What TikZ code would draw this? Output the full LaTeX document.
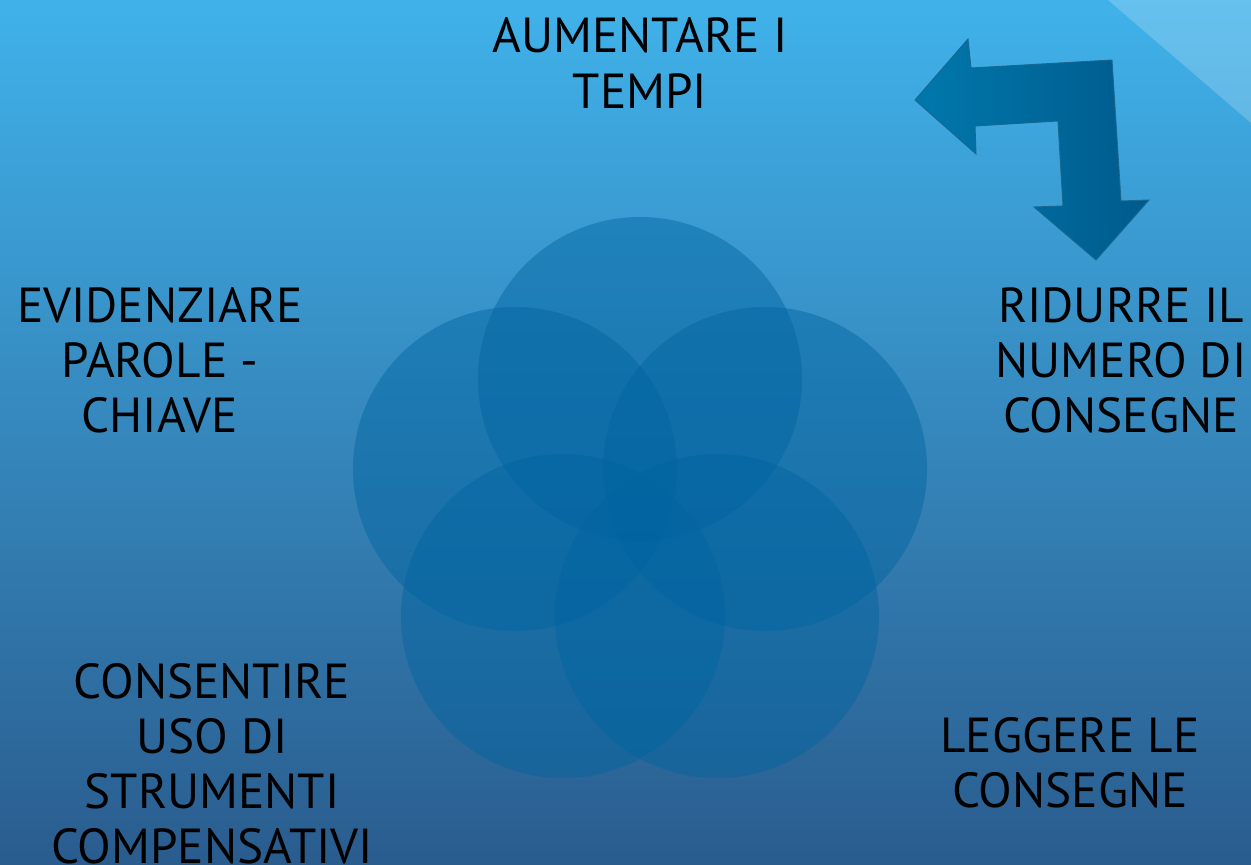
\documentclass[tikz,border=0pt]{standalone}
\usepackage{fontspec}
\setmainfont{PT Sans}
\usetikzlibrary{calc}

\definecolor{bgtop}{RGB}{64,178,234}
\definecolor{bgbot}{RGB}{42,92,142}
\definecolor{petal}{RGB}{0,100,160}
\definecolor{arrowlight}{RGB}{0,120,172}
\definecolor{arrowdark}{RGB}{0,90,140}
\definecolor{arrowline}{RGB}{24,104,146}

\tikzset{
  bubble/.style={circle, fill=petal, fill opacity=0.45, inner sep=0pt, minimum size=9.72cm},
  voce/.style={font=\fontsize{42}{47}\selectfont, align=center, text=black, inner sep=0pt}
}

\begin{document}
\begin{tikzpicture}[x=0.03cm, y=-0.03cm]
\clip (0, 0) rectangle (1251, 865);
\shade[top color=bgtop, bottom color=bgbot] (0, 0) rectangle (1251, 865);
\fill[white, opacity=0.2] (1108, 0) -- (1251, 0) -- (1251, 123) -- cycle;

\node[bubble] (top) at (640, 379) {};
\node[bubble] (left) at (515, 469) {};
\node[bubble] (right) at (765, 469) {};
\node[bubble] (lowleft) at (563, 616) {};
\node[bubble] (lowright) at (717, 616) {};

\shade[left color=arrowlight, right color=arrowdark, draw=arrowline, thick]
  (915, 100) -- (968, 39) -- (971, 68) -- (1112, 60) -- (1121, 201) -- (1149, 200)
  -- (1096, 260) -- (1034, 207) -- (1063, 206) -- (1058, 121) -- (975, 126)
  -- (976, 154) -- cycle;

\node[voce] (tempi) at (640, 63) {AUMENTARE I\\TEMPI};
\node[voce] (parole) at (160, 360) {EVIDENZIARE\\PAROLE -\\CHIAVE};
\node[voce] (numero) at (1121, 360) {RIDURRE IL\\NUMERO DI\\CONSEGNE};
\node[voce] (leggere) at (1070, 763) {LEGGERE LE\\CONSEGNE};
\node[voce] (strumenti) at (212, 764) {CONSENTIRE\\USO DI\\STRUMENTI\\COMPENSATIVI};
\end{tikzpicture}
\end{document}
